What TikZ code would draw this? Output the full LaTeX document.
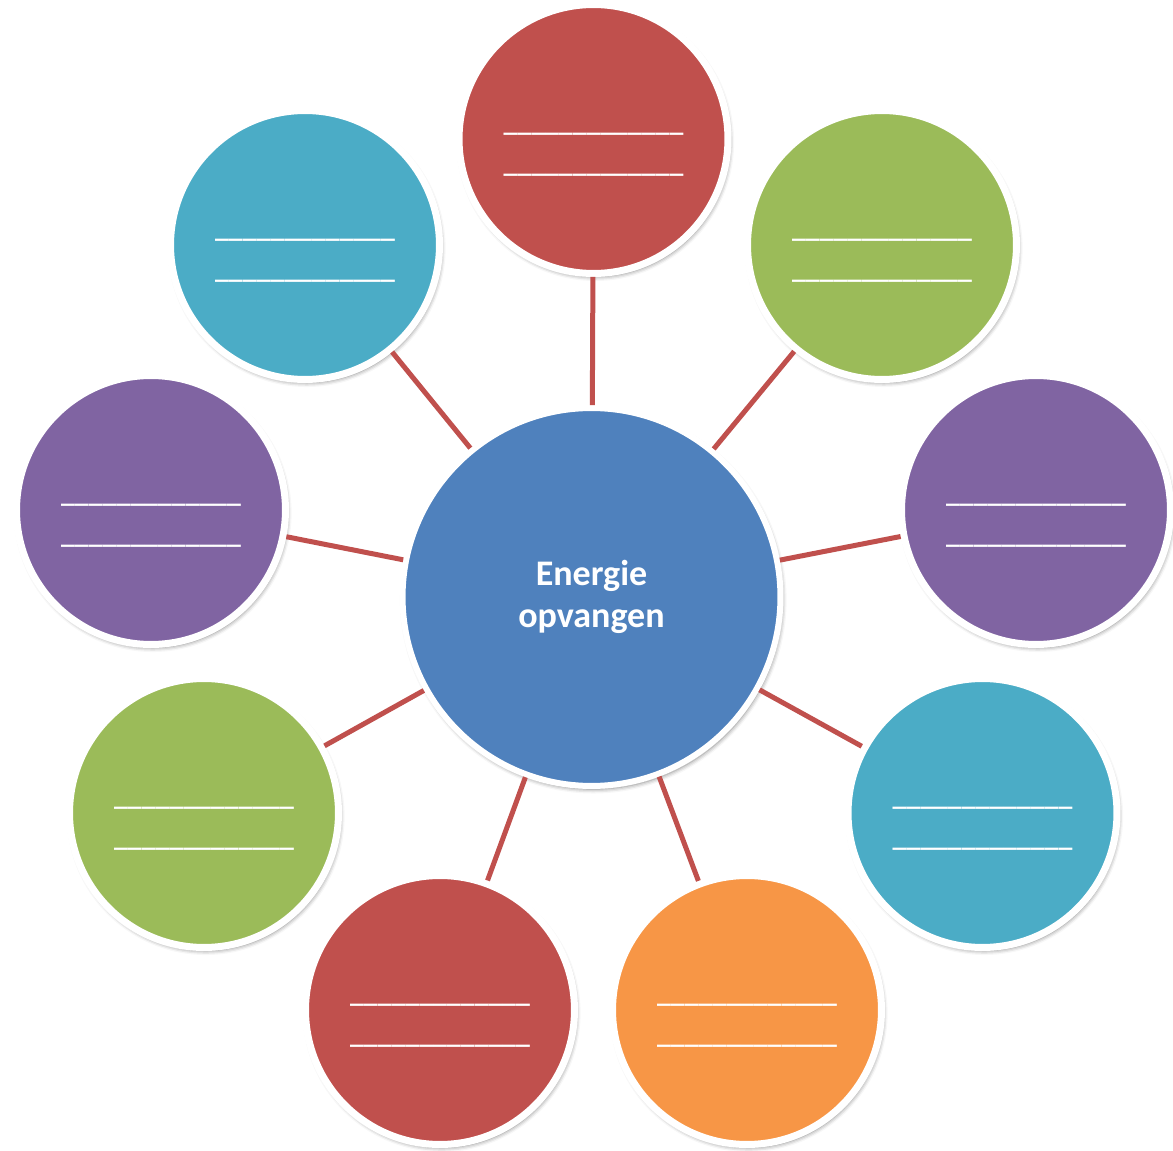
\documentclass[tikz,border=0pt]{standalone}
\usepackage{fontspec}
\setmainfont{Carlito}
\usetikzlibrary{shadows.blur}
\definecolor{offblue}{HTML}{4F81BD}
\definecolor{offred}{HTML}{C0504D}
\definecolor{offgreen}{HTML}{9BBB59}
\definecolor{offpurple}{HTML}{8064A2}
\definecolor{offaqua}{HTML}{4BACC6}
\definecolor{offorange}{HTML}{F79646}
\newcommand{\streepjes}{\_\_\_\_\_\_\_\_\_\_\_\_\_}

\begin{document}
\begin{tikzpicture}[x=0.02cm,y=-0.02cm,
    bol/.style={circle,draw=white,line width=0.14cm,minimum size=5.38cm,inner sep=0pt,
        blur shadow={shadow xshift=1pt,shadow yshift=-1.8pt,shadow blur radius=2.5pt,shadow opacity=50}},
    tekst/.style={text=white,align=center,font=\fontsize{15.8}{23.3}\selectfont\bfseries,yshift=-0.3cm},
    lijn/.style={draw=offred,line width=0.1cm}]
\useasboundingbox (0,0) rectangle (1173,1151);
\node[bol,fill=offblue,minimum size=7.56cm,line width=0.12cm,text=white,align=center,font=\fontsize{20.5}{23.8}\selectfont\bfseries] (energie) at (591.5,597) {Energie\\opvangen};
\node[bol,fill=offred,label={[tekst]center:\streepjes\\\streepjes}] (boven) at (593.5,139) {};
\node[bol,fill=offgreen,label={[tekst]center:\streepjes\\\streepjes}] (rechtsboven) at (882,245) {};
\node[bol,fill=offpurple,label={[tekst]center:\streepjes\\\streepjes}] (rechts) at (1036,510) {};
\node[bol,fill=offaqua,label={[tekst]center:\streepjes\\\streepjes}] (rechtsonder) at (982.5,813) {};
\node[bol,fill=offorange,label={[tekst]center:\streepjes\\\streepjes}] (onderrechts) at (747,1010) {};
\node[bol,fill=offred,label={[tekst]center:\streepjes\\\streepjes}] (onderlinks) at (440,1010) {};
\node[bol,fill=offgreen,label={[tekst]center:\streepjes\\\streepjes}] (linksonder) at (204,813) {};
\node[bol,fill=offpurple,label={[tekst]center:\streepjes\\\streepjes}] (links) at (151,510) {};
\node[bol,fill=offaqua,label={[tekst]center:\streepjes\\\streepjes}] (linksboven) at (305,245) {};
\draw[lijn] (energie) -- (boven);
\draw[lijn] (energie) -- (rechtsboven);
\draw[lijn] (energie) -- (rechts);
\draw[lijn] (energie) -- (rechtsonder);
\draw[lijn] (energie) -- (onderrechts);
\draw[lijn] (energie) -- (onderlinks);
\draw[lijn] (energie) -- (linksonder);
\draw[lijn] (energie) -- (links);
\draw[lijn] (energie) -- (linksboven);
\end{tikzpicture}
\end{document}
